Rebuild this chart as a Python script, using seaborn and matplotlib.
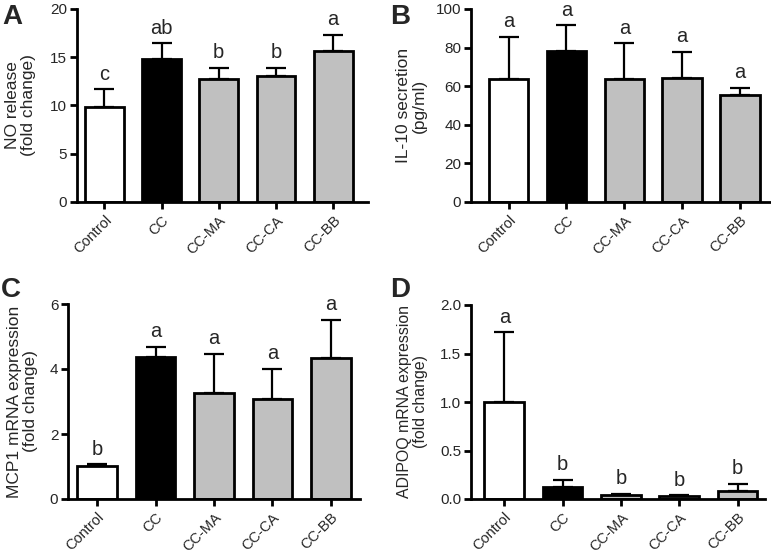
import matplotlib
matplotlib.use('Agg')
import matplotlib.pyplot as plt
import numpy as np
import pandas as pd
import seaborn as sns

sns.set_style('ticks')
plt.rcParams['font.family'] = ['Liberation Sans', 'DejaVu Sans']

grupos = ['Control', 'CC', 'CC-MA', 'CC-CA', 'CC-BB']
cores = ['#ffffff', '#000000', '#c0c0c0', '#c0c0c0', '#c0c0c0']

# A - NO release
no_media = [9.8, 14.85, 12.7, 13.1, 15.6]
no_erro = [1.9, 1.6, 1.2, 0.8, 1.7]
no_letras = ['c', 'ab', 'b', 'b', 'a']

# B - IL-10
il10_media = [63.6, 78.0, 63.6, 64.1, 55.4]
il10_erro = [22.1, 13.5, 18.6, 13.6, 3.7]
il10_letras = ['a', 'a', 'a', 'a', 'a']

# C - MCP1
mcp1_media = [1.01, 4.38, 3.27, 3.08, 4.34]
mcp1_erro = [0.06, 0.31, 1.2, 0.93, 1.18]
mcp1_letras = ['b', 'a', 'a', 'a', 'a']

# D - ADIPOQ
adipoq_media = [1.0, 0.124, 0.04, 0.034, 0.082]
adipoq_erro = [0.72, 0.072, 0.015, 0.004, 0.076]
adipoq_letras = ['a', 'b', 'b', 'b', 'b']

# letra, dados, rótulo, limites, caixa do eixo em pixels, limites x, letra do painel, borda direita do rótulo y, fonte do rótulo
paineis = [
    ('A', no_media, no_erro, no_letras, 'NO release\n(fold change)', (0, 20), [0, 5, 10, 15, 20], None,
     [77, 9, 368, 202], (-0.48, 4.61), (2, 4), 36, 12.5),
    ('B', il10_media, il10_erro, il10_letras, 'IL-10 secretion\n(pg/ml)', (0, 100), [0, 20, 40, 60, 80, 100], None,
     [471, 9, 770, 202], (-0.65, 4.52), (390, 4), 427, 12.5),
    ('C', mcp1_media, mcp1_erro, mcp1_letras, 'MCP1 mRNA expression\n(fold change)', (0, 6), [0, 2, 4, 6], None,
     [68, 304, 360, 499], (-0.5, 4.5), (1, 277), 38, 12.5),
    ('D', adipoq_media, adipoq_erro, adipoq_letras, 'ADIPOQ mRNA expression\n(fold change)', (0, 2), [0, 0.5, 1.0, 1.5, 2.0], '%.1f',
     [471, 305, 765, 499], (-0.57, 4.47), (390, 277), 428, 11.4),
]

W, H = 771, 550
fig = plt.figure(figsize=(W / 100, H / 100), dpi=100)

for letra, media, erro, letras, ylabel, ylim, yticks, fmt, caixa, xlim, lpos, yl_x, yl_fs in paineis:
    x0, y0, x1, y1 = caixa
    ax = fig.add_axes([x0 / W, 1 - y1 / H, (x1 - x0) / W, (y1 - y0) / H])
    df = pd.DataFrame({'grupo': grupos, 'media': media})
    sns.barplot(data=df, x='grupo', y='media', hue='grupo', palette=cores, legend=False,
                errorbar=None, width=0.68, edgecolor='black', linewidth=2, ax=ax, zorder=2)
    pos = np.arange(len(grupos))
    ax.errorbar(pos, media, yerr=[np.zeros(len(erro)), erro], fmt='none', ecolor='black',
                elinewidth=1.6, capsize=7.5, capthick=1.6, zorder=1)
    for i in range(len(grupos)):
        ax.annotate(letras[i], (pos[i], media[i] + erro[i]), xytext=(0, 4), textcoords='offset points',
                    ha='center', va='bottom', fontsize=14.5, annotation_clip=False)
    ax.set_ylim(*ylim)
    ax.set_xlim(*xlim)
    ax.set_yticks(yticks)
    if fmt:
        ax.set_yticklabels([fmt % v for v in yticks])
    ax.set_xlabel('')
    ax.set_ylabel(ylabel, fontsize=yl_fs, linespacing=1.1)
    ax.yaxis.set_label_coords((yl_x - x0) / (x1 - x0), 0.5)
    ax.set_xticks(pos)
    ax.set_xticklabels(grupos, rotation=45, ha='right', rotation_mode='anchor', fontsize=10.5)
    ax.tick_params(axis='y', labelsize=11, width=2, length=5, color='black', pad=2)
    ax.tick_params(axis='x', width=2, length=5, color='black', pad=3)
    for s in ['left', 'bottom']:
        ax.spines[s].set_linewidth(2)
        ax.spines[s].set_color('black')
    sns.despine(ax=ax)
    fig.text(lpos[0] / W, 1 - lpos[1] / H, letra, fontsize=20, fontweight='bold', va='top', ha='left')

plt.savefig('out.png', dpi=100)
